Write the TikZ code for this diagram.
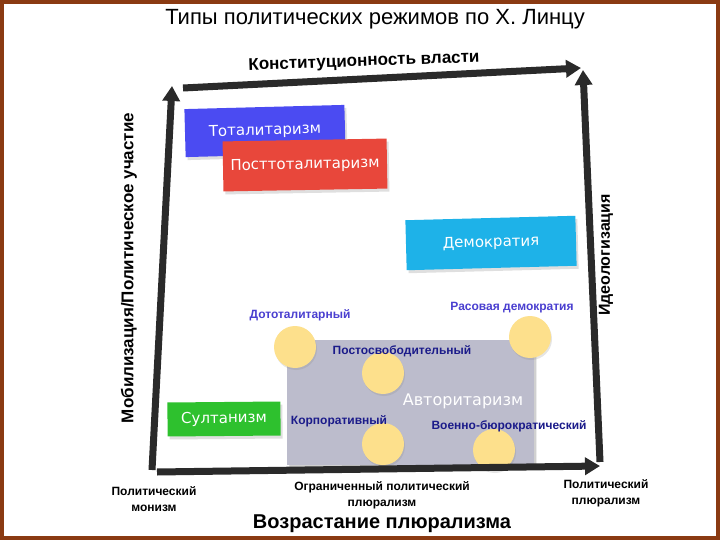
\documentclass[tikz,border=0pt]{standalone}
\usepackage{fontspec}
\setmainfont{Liberation Sans}
\newfontfamily\dvfont{DejaVu Sans}
\usetikzlibrary{arrows.meta,shadows}
\definecolor{frame}{HTML}{8A3A12}
\definecolor{axis}{HTML}{2A2A2A}
\definecolor{cblue}{HTML}{4B4BF2}
\definecolor{cred}{HTML}{E8473B}
\definecolor{ccyan}{HTML}{1EB2E8}
\definecolor{cgreen}{HTML}{2EC12E}
\definecolor{cgray}{HTML}{BCBCCC}
\definecolor{cyel}{HTML}{FDE08C}
\definecolor{lpurple}{HTML}{4A3FD0}
\definecolor{lnavy}{HTML}{1B1B8A}
\begin{document}
\begin{tikzpicture}[x=1pt,y=-1pt,
  axisline/.style={draw=axis,line width=7pt,-{Triangle[length=15pt,width=17pt]}},
  regbox/.style={inner sep=0pt,text=white,font=\dvfont\fontsize{15}{18}\selectfont,drop shadow={shadow xshift=2pt,shadow yshift=-3pt,opacity=0.25}},
  dot/.style={circle,fill=cyel,minimum size=42pt,inner sep=0pt,drop shadow={shadow xshift=1pt,shadow yshift=-2pt,opacity=0.2}},
  sub/.style={font=\bfseries\fontsize{12}{14}\selectfont,inner sep=0pt},
  axlab/.style={font=\bfseries\fontsize{17}{20}\selectfont,inner sep=0pt},
  botlab/.style={font=\bfseries\fontsize{12}{16}\selectfont,align=center,inner sep=0pt}]
\useasboundingbox (0,0) rectangle (720,540);
\fill[white] (0,0) rectangle (720,540);
\draw[frame,line width=4pt] (2,2) rectangle (718,538);

\node[font=\fontsize{22}{26}\selectfont] (title) at (375,19) {Типы политических режимов по Х. Линцу};

% boxes
\node[regbox,fill=cblue,minimum width=160pt,minimum height=48pt,rotate=1.5] (tot) at (265,131) {Тоталитаризм};
\node[regbox,fill=cred,minimum width=164pt,minimum height=50pt,rotate=1] (post) at (305,165) {Посттоталитаризм};
\node[regbox,fill=ccyan,minimum width=170pt,minimum height=50pt,rotate=1.5] (dem) at (491,243) {Демократия};
\node[regbox,fill=cgreen,minimum width=113pt,minimum height=34pt,rotate=0.5] (sult) at (224,419) {Султанизм};
\node[regbox,fill=cgray,minimum width=247pt,minimum height=125pt,drop shadow={opacity=0.15}] (auth) at (410.5,402.5) {};
\node[text=white,font=\dvfont\fontsize{16}{18}\selectfont] (authl) at (463,401) {Авторитаризм};

% circles
\node[dot] (c1) at (295,347) {};
\node[dot] (c2) at (383,373) {};
\node[dot] (c3) at (530,337) {};
\node[dot] (c4) at (383,444) {};
\node[dot] (c5) at (494,450) {};

% sub labels
\node[sub,text=lpurple] (l1) at (300,315) {Дототалитарный};
\node[sub,text=lnavy] (l2) at (402,351) {Постосвободительный};
\node[sub,text=lpurple] (l3) at (512,308) {Расовая демократия};
\node[sub,text=lnavy] (l4) at (339,421) {Корпоративный};
\node[sub,text=lnavy] (l5) at (509,426) {Военно-бюрократический};

% axes
\coordinate (LB) at (152,470);
\coordinate (LT) at (172,86);
\coordinate (TS) at (183,88);
\coordinate (TE) at (581,68);
\coordinate (RB) at (600,462);
\coordinate (RT) at (583,70);
\coordinate (BS) at (157,472);
\coordinate (BE) at (600,466);
\draw[axisline] (LB) -- (LT);
\draw[axisline] (TS) -- (TE);
\draw[axisline] (RB) -- (RT);
\draw[axisline] (BS) -- (BE);

\node[axlab,rotate=2] (topl) at (364,62) {Конституционность власти};
\node[axlab,rotate=90] (leftl) at (129,268) {Мобилизация/Политическое участие};
\node[axlab,rotate=90,font=\bfseries\fontsize{16}{18}\selectfont] (rightl) at (606,255) {Идеологизация};

\node[botlab] (b1) at (154,499) {Политический\\монизм};
\node[botlab] (b2) at (382,495) {Ограниченный политический\\плюрализм};
\node[botlab] (b3) at (606,493) {Политический\\плюрализм};
\node[font=\bfseries\fontsize{20}{22}\selectfont] (b4) at (382,524) {Возрастание плюрализма};
\end{tikzpicture}
\end{document}
